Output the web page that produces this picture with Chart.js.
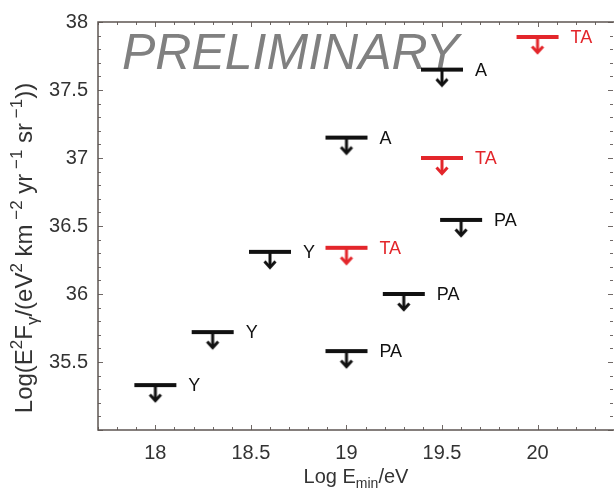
<!DOCTYPE html>
<html>
<head>
<meta charset="utf-8">
<script src="https://cdn.jsdelivr.net/npm/chart.js@4.4.1/dist/chart.umd.min.js"></script>
<style>
  html, body { margin: 0; padding: 0; background: #fff; }
</style>
</head>
<body>
<canvas id="limitsChart" width="614" height="488"></canvas>
<script>
// photon flux upper limits, Log(E^2 F) against Log E_min
var yakutskE = [18.0, 18.3, 18.6];
var yakutskLim = [35.33, 35.72, 36.31];
var augerE = [19.0, 19.3, 19.6];
var augerLim = [35.58, 36.0, 36.545];
var agasaE = [19.0, 19.5];
var agasaLim = [37.15, 37.65];
var taE = [19.0, 19.5, 20.0];
var taLim = [36.34, 37.0, 37.89];

var xTicks = [18, 18.5, 19, 19.5, 20];
var yTicks = [35.5, 36, 36.5, 37, 37.5, 38];

var FONT = '"Liberation Sans", Arial, sans-serif';
var TEXT = '#333';
var RED = '#e3262b';

// bar with a down arrow, bar centred on the point
function limitMarker(color) {
  var c = document.createElement('canvas');
  c.width = 46; c.height = 40;
  var g = c.getContext('2d');
  g.fillStyle = color;
  g.strokeStyle = color;
  g.fillRect(2, 18, 42, 4);
  g.lineWidth = 3;
  g.beginPath(); g.moveTo(23, 20); g.lineTo(23, 35); g.stroke();
  g.beginPath(); g.moveTo(17.5, 29.5); g.lineTo(23, 35.5); g.lineTo(28.5, 29.5); g.stroke();
  return c;
}
var blackMark = limitMarker('#111');
var redMark = limitMarker(RED);

function pts(xs, ys) {
  return xs.map(function (x, i) { return { x: x, y: ys[i] }; });
}

function mkSet(name, xs, ys, mark, color) {
  return {
    label: name,
    data: pts(xs, ys),
    pointStyle: mark,
    borderColor: color,
    backgroundColor: color,
    showLine: false
  };
}

// text with super/subscripts, parts = [text, shift]
function richText(ctx, parts, cx, y, size, ratio) {
  var small = Math.round(size * ratio);
  var w = 0;
  parts.forEach(function (p) {
    ctx.font = (p[1] ? small : size) + 'px ' + FONT;
    w += ctx.measureText(p[0]).width;
  });
  var x = cx - w / 2;
  ctx.textAlign = 'left';
  ctx.textBaseline = 'alphabetic';
  parts.forEach(function (p) {
    ctx.font = (p[1] ? small : size) + 'px ' + FONT;
    var dy = p[1] > 0 ? -size * 0.4 : (p[1] < 0 ? size * 0.25 : 0);
    ctx.fillText(p[0], x, y + dy);
    x += ctx.measureText(p[0]).width;
  });
}

var frame = {
  id: 'frame',
  beforeDatasetsDraw: function (chart) {
    var ctx = chart.ctx, a = chart.chartArea;
    ctx.save();
    ctx.font = 'italic 50px ' + FONT;
    ctx.fillStyle = '#808080';
    ctx.textAlign = 'left';
    ctx.textBaseline = 'alphabetic';
    ctx.fillText('PRELIMINARY', a.left + 24, a.top + 47);
    ctx.restore();
  },
  afterDatasetsDraw: function (chart) {
    var ctx = chart.ctx;
    ctx.save();
    ctx.font = '18px ' + FONT;
    ctx.textAlign = 'left';
    ctx.textBaseline = 'middle';
    chart.data.datasets.forEach(function (ds, i) {
      ctx.fillStyle = ds.borderColor;
      chart.getDatasetMeta(i).data.forEach(function (el) {
        ctx.fillText(ds.label, el.x + 33, el.y + 1);
      });
    });
    ctx.restore();
  },
  afterDraw: function (chart) {
    var ctx = chart.ctx, a = chart.chartArea;
    var xs = chart.scales.x, ys = chart.scales.y;
    ctx.save();
    // minor and major ticks, pointing inward on all sides
    ctx.strokeStyle = '#6f6866';
    ctx.lineWidth = 1;
    ctx.beginPath();
    for (var i = 177; i <= 204; i++) {
      var px = Math.round(xs.getPixelForValue(i / 10)) + 0.5;
      var len = i % 5 === 0 ? 5 : 3;
      ctx.moveTo(px, a.bottom); ctx.lineTo(px, a.bottom - len);
      ctx.moveTo(px, a.top); ctx.lineTo(px, a.top + len);
    }
    for (var j = 350; j <= 380; j++) {
      var py = Math.round(ys.getPixelForValue(j / 10)) + 0.5;
      var l2 = j % 5 === 0 ? 5 : 3;
      ctx.moveTo(a.left, py); ctx.lineTo(a.left + l2, py);
      ctx.moveTo(a.right - 1, py); ctx.lineTo(a.right - 1 - l2, py);
    }
    ctx.stroke();
    // box, right edge falls off the canvas
    ctx.strokeStyle = '#5d5552';
    ctx.lineWidth = 1.5;
    ctx.strokeRect(a.left, a.top, a.right - a.left + 4, a.bottom - a.top);

    // axis titles
    ctx.fillStyle = TEXT;
    richText(ctx, [['Log E', 0], ['min', -1], ['/eV', 0]], 356, 483, 20, 0.68);
    ctx.translate(32, 248);
    ctx.rotate(-Math.PI / 2);
    richText(ctx, [
      ['Log(E', 0], ['2', 1], ['F', 0], ['\u03b3', -1], ['/(eV', 0], ['2', 1],
      [' km', 0], [' \u22122', 1], [' yr', 0], [' \u22121', 1],
      [' sr', 0], [' \u22121', 1], ['))', 0]
    ], 0, 0, 24, 0.72);
    ctx.restore();
  }
};

new Chart(document.getElementById('limitsChart'), {
  type: 'scatter',
  data: {
    datasets: [
      mkSet('Y', yakutskE, yakutskLim, blackMark, '#111'),
      mkSet('PA', augerE, augerLim, blackMark, '#111'),
      mkSet('A', agasaE, agasaLim, blackMark, '#111'),
      mkSet('TA', taE, taLim, redMark, RED)
    ]
  },
  options: {
    responsive: false,
    animation: false,
    devicePixelRatio: 1,
    events: [],
    layout: { autoPadding: false, padding: { top: 16, left: 0, right: 0, bottom: 0 } },
    scales: {
      x: {
        type: 'linear',
        min: 17.7,
        max: 20.4,
        afterBuildTicks: function (s) { s.ticks = xTicks.map(function (v) { return { value: v }; }); },
        afterFit: function (s) { s.height = 58; s.paddingLeft = 0; s.paddingRight = 0; },
        grid: { display: false, drawTicks: false },
        border: { display: false },
        ticks: {
          padding: 11,
          color: TEXT,
          font: { family: FONT, size: 20 },
          callback: function (v) { return String(v); }
        }
      },
      y: {
        min: 35,
        max: 38,
        afterBuildTicks: function (s) { s.ticks = yTicks.map(function (v) { return { value: v }; }); },
        afterFit: function (s) { s.width = 98; },
        grid: { display: false, drawTicks: false },
        border: { display: false },
        ticks: {
          padding: 10,
          color: TEXT,
          font: { family: FONT, size: 20 },
          callback: function (v) { return String(v); }
        }
      }
    },
    plugins: {
      legend: { display: false },
      tooltip: { enabled: false }
    }
  },
  plugins: [frame]
});
</script>
</body>
</html>
